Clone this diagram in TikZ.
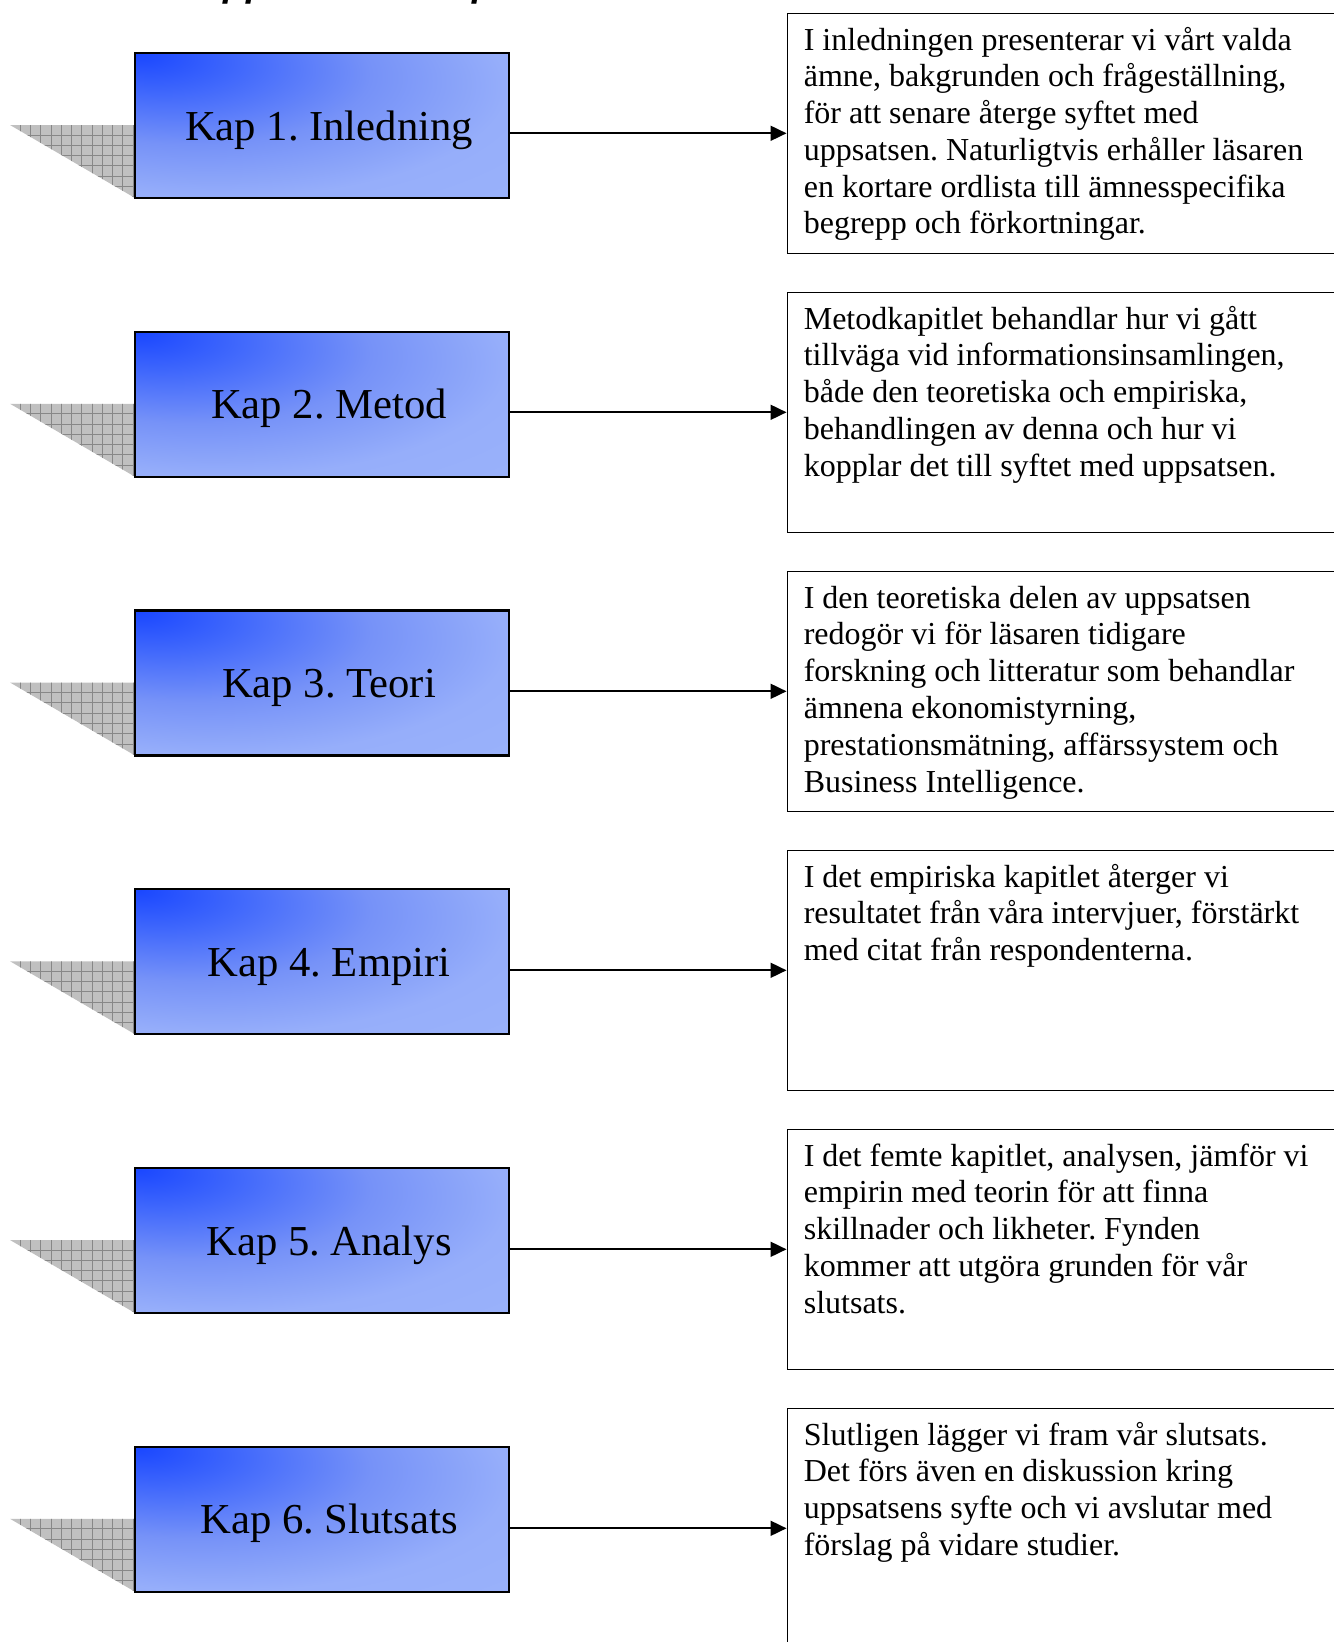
\documentclass[tikz,border=0pt]{standalone}
\usepackage{fontspec}
\setmainfont{Liberation Serif}
\newfontfamily\titlefont{Liberation Sans}
\usetikzlibrary{arrows.meta}
\frenchspacing

% colours of the chapter boxes and their shadows
\definecolor{blueA}{RGB}{25,70,255}
\definecolor{blueB}{RGB}{62,102,252}
\definecolor{blueC}{RGB}{118,146,248}
\definecolor{blueD}{RGB}{150,174,250}
\definecolor{blueE}{RGB}{162,186,252}
\definecolor{shadowfill}{RGB}{192,192,192}
\definecolor{shadowgrid}{RGB}{135,135,135}

% gradient spreading out from the top-left corner of a chapter box
\pgfdeclareradialshading{kapshade}{\pgfpoint{-25bp}{25bp}}{%
  color(0bp)=(blueA); color(10bp)=(blueB); color(24bp)=(blueC);
  color(38bp)=(blueD); color(80bp)=(blueE)}

\tikzset{
  kapbox/.style={draw=black, line width=0.8pt, shading=kapshade,
    minimum width=140.25pt, minimum height=54.4pt, inner sep=0pt},
  kaplabel/.style={font=\fontsize{16}{19}\selectfont, inner sep=0pt, anchor=base},
  infobox/.style={draw=black, line width=0.55pt,
    minimum width=209.2pt, minimum height=90pt, inner sep=0pt},
  infotext/.style={inner sep=0pt, anchor=base west},
  linkarrow/.style={line width=0.75pt, -{Triangle[length=6pt,width=5.6pt]}},
  shadowgridline/.style={draw=shadowgrid, line width=0.35pt}
}

% one chapter: shadow, gradient box, label, description box and arrow
\newcommand{\kaprow}[3]{%
  \pgfmathsetmacro{\kapTop}{53+278.75*(#1-1)}%
  \pgfmathsetmacro{\infoTop}{13.3+279*(#1-1)}%
  \begin{scope}
    \clip (10,\kapTop+72) -- (135,\kapTop+72) -- (135,\kapTop+145) -- cycle;
    \fill[shadowfill] (0,\kapTop+60) rectangle (140,\kapTop+150);
    \foreach \k in {0,...,11}
      \draw[shadowgridline] (133-10.25*\k,\kapTop+70) -- ++(0,80);
    \foreach \k in {0,...,6}
      \draw[shadowgridline] (0,\kapTop+82+10.3*\k) -- ++(140,0);
  \end{scope}
  \node[kapbox] (kap#1) at (322,\kapTop+72.5) {};
  \node[kaplabel] (kaplab#1) at (329,\kapTop+87) {#2};
  \node[infobox] (info#1) at (1066.2,\infoTop+120) {};
  \node[infotext] (infotxt#1) at (803.3,\infoTop+36.7)
    {\parbox[t]{200pt}{\fontsize{12}{13.8}\selectfont\raggedright #3}};
  \draw[linkarrow] (kap#1.east |- info#1.west) -- (info#1.west);
}

\begin{document}
\begin{tikzpicture}[x=0.375pt, y=-0.375pt]
\useasboundingbox (0,0) rectangle (1334,1642);
\clip (0,0) rectangle (1334,1642);

% heading of the page, only its descenders fall inside the picture
\node[anchor=base west, inner sep=0pt,
  font=\titlefont\bfseries\itshape\fontsize{14}{16}\selectfont]
  (title) at (196,-3) {Uppsatsens disposition};

\kaprow{1}{Kap 1. Inledning}{I inledningen presenterar vi vårt valda\\
ämne, bakgrunden och frågeställning,\\
för att senare återge syftet med\\
uppsatsen. Naturligtvis erhåller läsaren\\
en kortare ordlista till ämnesspecifika\\
begrepp och förkortningar.}

\kaprow{2}{Kap 2. Metod}{Metodkapitlet behandlar hur vi gått\\
tillväga vid informationsinsamlingen,\\
både den teoretiska och empiriska,\\
behandlingen av denna och hur vi\\
kopplar det till syftet med uppsatsen.}

\kaprow{3}{Kap 3. Teori}{I den teoretiska delen av uppsatsen\\
redogör vi för läsaren tidigare\\
forskning och litteratur som behandlar\\
ämnena ekonomistyrning,\\
prestationsmätning, affärssystem och\\
Business Intelligence.}

\kaprow{4}{Kap 4. Empiri}{I det empiriska kapitlet återger vi\\
resultatet från våra intervjuer, förstärkt\\
med citat från respondenterna.}

\kaprow{5}{Kap 5. Analys}{I det femte kapitlet, analysen, jämför vi\\
empirin med teorin för att finna\\
skillnader och likheter. Fynden\\
kommer att utgöra grunden för vår\\
slutsats.}

\kaprow{6}{Kap 6. Slutsats}{Slutligen lägger vi fram vår slutsats.\\
Det förs även en diskussion kring\\
uppsatsens syfte och vi avslutar med\\
förslag på vidare studier.}
\end{tikzpicture}
\end{document}
